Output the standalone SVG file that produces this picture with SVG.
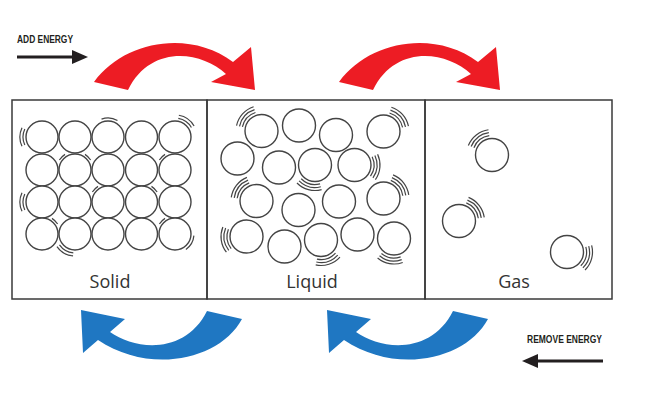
<svg xmlns="http://www.w3.org/2000/svg" xmlns:xlink="http://www.w3.org/1999/xlink" width="660" height="405" viewBox="0 0 660 405">
<style>
.box{fill:none;stroke:#3a3a3a;stroke-width:1.5}
.p{fill:#fff;stroke:#444;stroke-width:1.4}
.v{fill:none;stroke:#444;stroke-width:1.2}
.lbl{font-family:"Open Sans","Noto Sans",sans-serif;font-size:18px;fill:#333;text-anchor:middle}
.cap{font-family:"Liberation Sans",Arial,sans-serif;font-weight:bold;font-size:11px;fill:#231f20}
.red{fill:#ed1c24}
.blue{fill:#1f77c2}
.blk{stroke:#231f20;stroke-width:3;fill:none}
</style>
<defs>
<g id="v3">
<path class="v" d="M16.89 -9.75 A19.5 19.5 0 0 1 16.89 9.75"/>
<path class="v" d="M19.49 -11.25 A22.5 22.5 0 0 1 19.49 11.25"/>
<path class="v" d="M22.08 -12.75 A25.5 25.5 0 0 1 22.08 12.75"/>
</g>
<g id="v2">
<path class="v" d="M17.2 -8 A19 19 0 0 1 17.2 8"/>
<path class="v" d="M20 -9.3 A22 22 0 0 1 20 9.3"/>
</g>
<g id="v1">
<path class="v" d="M17.2 -8 A19 19 0 0 1 17.2 8"/>
</g>
<g id="f1">
<path class="v" d="M18.1 -4 A18.5 18.5 0 0 1 18.1 4"/>
</g>
<path id="redArrow" d="M94 82 C125 40 190 30 233 62 L251 47 L255 90 L211 82 L226 74 C200 50 150 45 128 90 Z"/>
<path id="blueArrow" d="M81 310 L125 319 L110 332 C135 350 185 355 207 311 L242 319 C220 360 150 375 98 340 L83 353 Z"/>
</defs>

<g id="add-energy">
<text class="cap" x="17" y="43" textLength="56" lengthAdjust="spacingAndGlyphs">ADD ENERGY</text>
<line class="blk" x1="17" y1="57" x2="76" y2="57"/>
<polygon points="72,50 88,57 72,64" fill="#231f20"/>
</g>

<g id="remove-energy">
<text class="cap" x="527" y="343" textLength="75" lengthAdjust="spacingAndGlyphs">REMOVE ENERGY</text>
<line class="blk" x1="534" y1="361" x2="603" y2="361"/>
<polygon points="538,354 522,361 538,368" fill="#231f20"/>
</g>

<g id="connectors">
<use xlink:href="#redArrow" class="red"/>
<use xlink:href="#redArrow" class="red" transform="translate(245,0)"/>
<use xlink:href="#blueArrow" class="blue"/>
<use xlink:href="#blueArrow" class="blue" transform="translate(246,0)"/>
</g>

<g id="solid">
<rect class="box" x="12" y="100" width="195" height="199"/>
<g>
<circle class="p" cx="42" cy="137" r="16"/><circle class="p" cx="75" cy="137" r="16"/><circle class="p" cx="108" cy="137" r="16"/><circle class="p" cx="141.5" cy="137" r="16"/><circle class="p" cx="175" cy="137" r="16"/>
<circle class="p" cx="42" cy="170" r="16"/><circle class="p" cx="75" cy="170" r="16"/><circle class="p" cx="108" cy="170" r="16"/><circle class="p" cx="141.5" cy="170" r="16"/><circle class="p" cx="175" cy="170" r="16"/>
<circle class="p" cx="42" cy="202" r="16"/><circle class="p" cx="75" cy="202" r="16"/><circle class="p" cx="108" cy="202" r="16"/><circle class="p" cx="141.5" cy="202" r="16"/><circle class="p" cx="175" cy="202" r="16"/>
<circle class="p" cx="42" cy="234" r="16"/><circle class="p" cx="75" cy="234" r="16"/><circle class="p" cx="108" cy="234" r="16"/><circle class="p" cx="141.5" cy="234" r="16"/><circle class="p" cx="175" cy="234" r="16"/>
</g>
<use xlink:href="#v2" transform="translate(42,137) rotate(180)"/>
<use xlink:href="#v1" transform="translate(108,137) rotate(275)"/>
<use xlink:href="#v2" transform="translate(175,137) rotate(305)"/>
<use xlink:href="#v2" transform="translate(42,202) rotate(180)"/>
<use xlink:href="#v2" transform="translate(75,234) rotate(120)"/>
<use xlink:href="#v1" transform="translate(175,234) rotate(30)"/>
<use xlink:href="#f1" transform="translate(75,170) rotate(225)"/>
<use xlink:href="#f1" transform="translate(75,170) rotate(315)"/>
<use xlink:href="#f1" transform="translate(175,170) rotate(225)"/>
<use xlink:href="#f1" transform="translate(108,202) rotate(225)"/>
<use xlink:href="#f1" transform="translate(141.5,202) rotate(315)"/>
<use xlink:href="#f1" transform="translate(42,234) rotate(315)"/>
<use xlink:href="#f1" transform="translate(175,234) rotate(225)"/>
<text class="lbl" x="110" y="288">Solid</text>
</g>

<g id="liquid">
<rect class="box" x="207" y="100" width="218" height="199"/>
<circle class="p" cx="261.5" cy="131" r="16.5"/>
<circle class="p" cx="299" cy="125.5" r="16.5"/>
<circle class="p" cx="336" cy="135" r="16.5"/>
<circle class="p" cx="383.5" cy="131.5" r="16.5"/>
<circle class="p" cx="237.5" cy="158.5" r="16.5"/>
<circle class="p" cx="279" cy="167.5" r="16.5"/>
<circle class="p" cx="315" cy="165" r="16.5"/>
<circle class="p" cx="354.5" cy="165" r="16.5"/>
<circle class="p" cx="256.5" cy="201" r="16.5"/>
<circle class="p" cx="298.5" cy="210" r="16.5"/>
<circle class="p" cx="339" cy="201.5" r="16.5"/>
<circle class="p" cx="383.5" cy="198.5" r="16.5"/>
<circle class="p" cx="246.5" cy="236.5" r="16.5"/>
<circle class="p" cx="284.5" cy="246.5" r="16.5"/>
<circle class="p" cx="321" cy="240" r="16.5"/>
<circle class="p" cx="357.5" cy="234.5" r="16.5"/>
<circle class="p" cx="394" cy="238.5" r="16.5"/>
<use xlink:href="#v3" transform="translate(261.5,131) rotate(222)"/>
<use xlink:href="#v3" transform="translate(383.5,131.5) rotate(318)"/>
<use xlink:href="#v3" transform="translate(315,165) rotate(105)"/>
<use xlink:href="#v3" transform="translate(354.5,165) rotate(5)"/>
<use xlink:href="#v3" transform="translate(256.5,201) rotate(218)"/>
<use xlink:href="#v3" transform="translate(383.5,198.5) rotate(322)"/>
<use xlink:href="#v3" transform="translate(246.5,236.5) rotate(172)"/>
<use xlink:href="#v3" transform="translate(321,240) rotate(72)"/>
<use xlink:href="#v3" transform="translate(394,238.5) rotate(100)"/>
<text class="lbl" x="312" y="288">Liquid</text>
</g>

<g id="gas">
<rect class="box" x="425" y="100" width="187" height="199"/>
<circle class="p" cx="492" cy="155" r="16.5"/>
<circle class="p" cx="459" cy="221" r="16.5"/>
<circle class="p" cx="567" cy="252" r="16.5"/>
<use xlink:href="#v3" transform="translate(492,155) rotate(232)"/>
<use xlink:href="#v3" transform="translate(459,221) rotate(322)"/>
<use xlink:href="#v3" transform="translate(567,252) rotate(15)"/>
<text class="lbl" x="514" y="288">Gas</text>
</g>
</svg>
